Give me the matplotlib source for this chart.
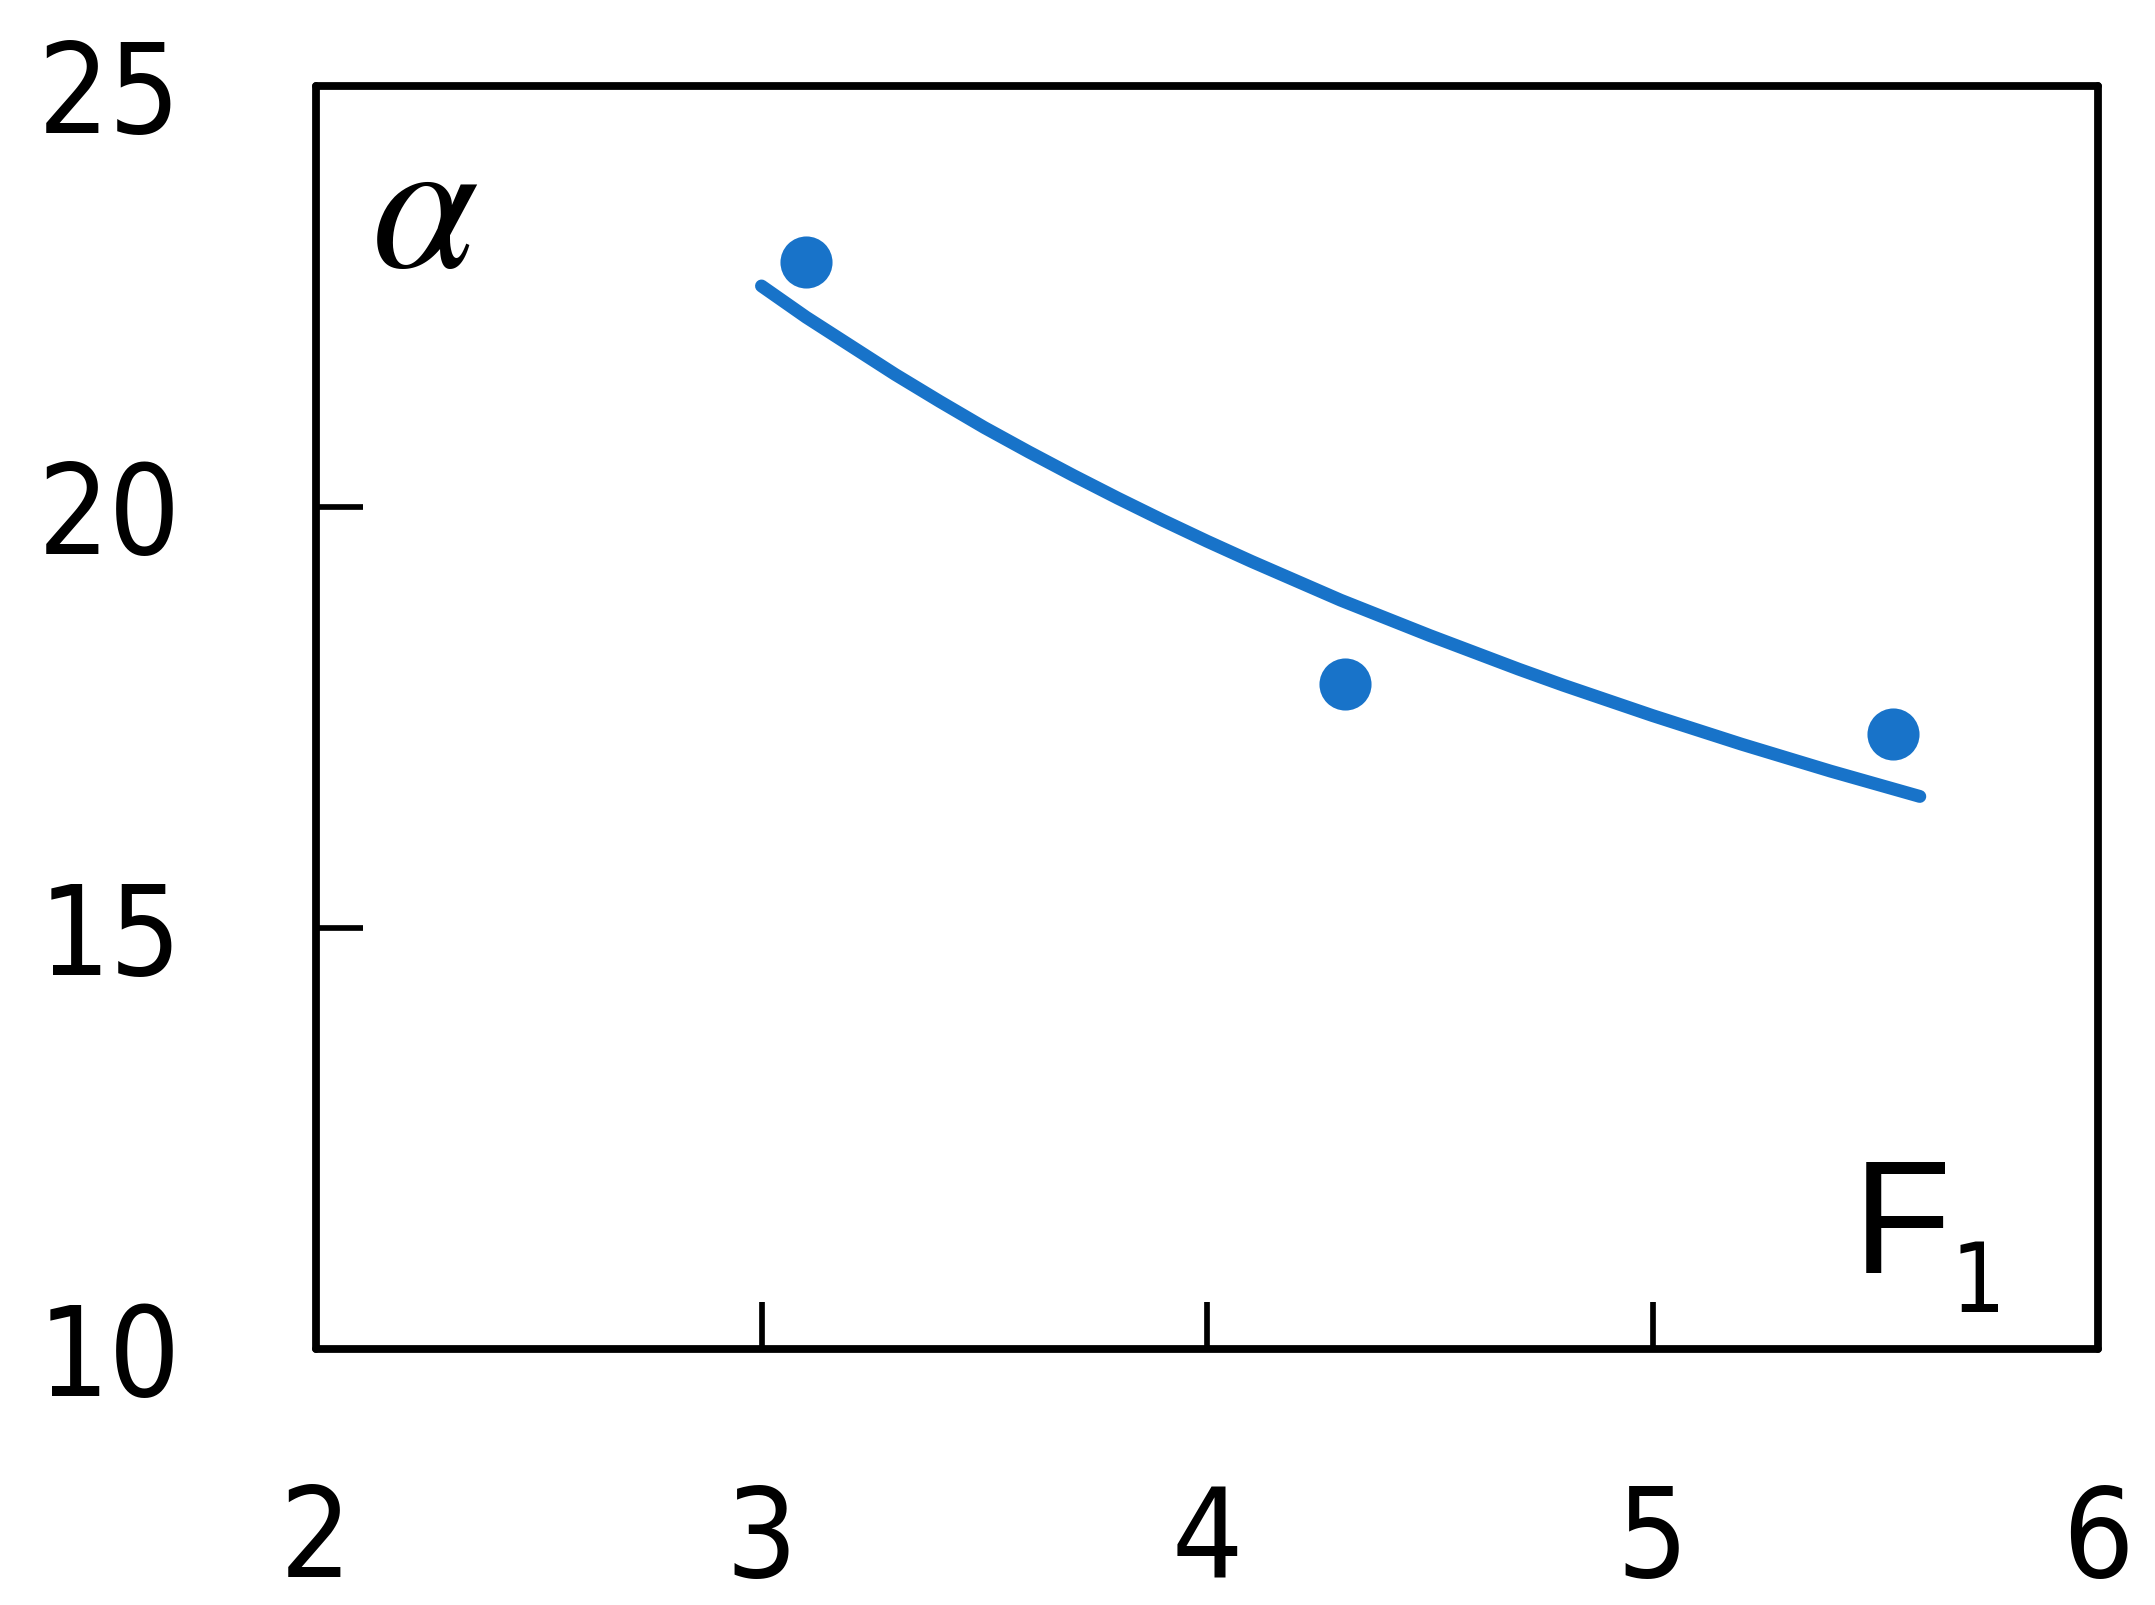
import matplotlib
matplotlib.use("Agg")
import matplotlib.pyplot as plt
from matplotlib.font_manager import FontProperties

# ---- data ----
points_x = [3.10, 4.31, 5.54]
points_y = [22.90, 17.90, 17.30]

curve_x = [3.0, 3.1, 3.2, 3.3, 3.4, 3.5, 3.6, 3.7, 3.8, 3.9, 4.0, 4.1, 4.2, 4.3,
           4.4, 4.5, 4.6, 4.7, 4.8, 4.9, 5.0, 5.1, 5.2, 5.3, 5.4, 5.5, 5.6]
curve_y = [22.62, 22.25, 21.91, 21.57, 21.25, 20.94, 20.65, 20.37, 20.10, 19.84,
           19.59, 19.35, 19.12, 18.89, 18.68, 18.47, 18.27, 18.07, 17.88, 17.70,
           17.52, 17.35, 17.18, 17.02, 16.86, 16.71, 16.56]

x_ticks = [2, 3, 4, 5, 6]
y_ticks = [10, 15, 20, 25]
x_labels = ["2", "3", "4", "5", "6"]
y_labels = ["10", "15", "20", "25"]

BLUE = "#1873C9"
W, H = 2155, 1605
DPI = 100

plt.rcParams['font.family'] = ['DejaVu Sans']
plt.rcParams['mathtext.fontset'] = 'stix'

tick_fp = FontProperties(family='DejaVu Sans', stretch='condensed', size=90)

fig = plt.figure(figsize=(W / DPI, H / DPI), dpi=DPI)
ax = fig.add_axes([316 / W, 1 - 1349 / H, (2098 - 316) / W, (1349 - 85.5) / H])

ax.plot(curve_x, curve_y, color=BLUE, lw=9.3, solid_capstyle='round',
        solid_joinstyle='round', zorder=2)
ax.plot(points_x, points_y, 'o', color=BLUE, ms=37.5, mec='none', zorder=3)

ax.set_xlim(2, 6)
ax.set_ylim(10, 25)
ax.set_xticks(x_ticks)
ax.set_xticklabels(x_labels, fontproperties=tick_fp)
ax.set_yticks(y_ticks)
ax.set_yticklabels(y_labels, fontproperties=tick_fp)

for s in ax.spines.values():
    s.set_linewidth(5.6)
    s.set_color('black')
    s.set_capstyle('round')

ax.tick_params(axis='both', direction='in', length=34, width=4.1,
               color='black', labelcolor='black')
ax.tick_params(axis='x', pad=96)
ax.tick_params(axis='y', pad=97)

# hide ticks at the axis ends (labels kept)
for t in ax.xaxis.get_major_ticks():
    if t.get_loc() in (2, 6):
        t.tick1line.set_visible(False)
        t.tick2line.set_visible(False)
for t in ax.yaxis.get_major_ticks():
    if t.get_loc() in (10, 25):
        t.tick1line.set_visible(False)
        t.tick2line.set_visible(False)

# annotations
fig.text(371 / W, 1 - 267 / H, r"$\alpha$", fontsize=138, ha='left', va='baseline',
         color='black')
fig.text(1853 / W, 1 - 1273 / H, "F", family='Liberation Sans', fontsize=116,
         ha='left', va='baseline', color='black')
fig.text(1977.5 / W, 1 - 1312 / H, "1", fontproperties=FontProperties(
         family='DejaVu Sans', stretch='condensed', size=69),
         ha='center', va='baseline', color='black')

fig.savefig("out.png", dpi=DPI, facecolor='white')
